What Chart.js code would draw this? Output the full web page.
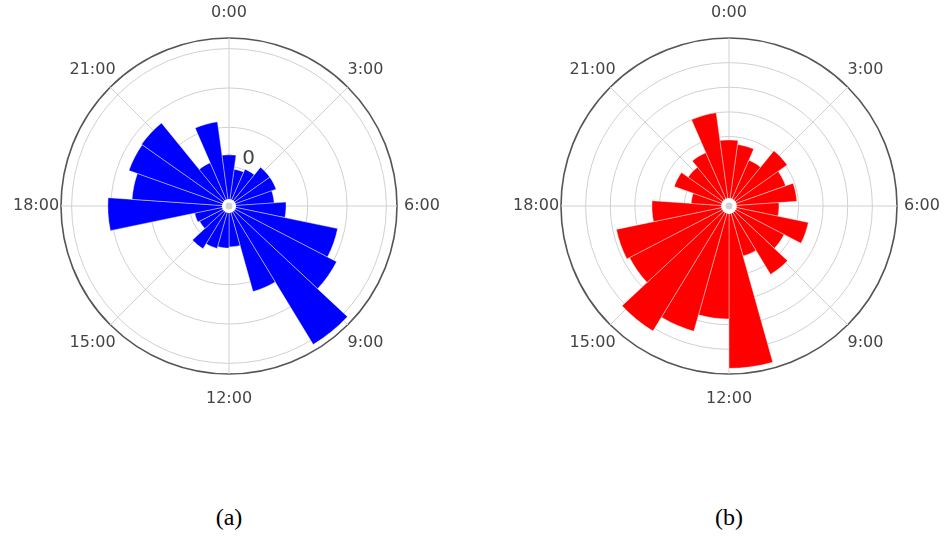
<!DOCTYPE html>
<html>
<head>
<meta charset="utf-8">
<script src="https://cdn.jsdelivr.net/npm/chart.js@4.4.0/dist/chart.umd.min.js"></script>
<style>
  body { margin: 0; width: 947px; height: 559px; overflow: hidden; background: #fff; position: relative; }
  canvas { position: absolute; }
  .cap { position: absolute; top: 504px; width: 100px; text-align: center;
         font: 24px "Liberation Serif", "Times New Roman", serif; color: #000; }
</style>
</head>
<body>
<canvas id="chartA" width="460" height="430" style="left:-1px;top:-9px"></canvas>
<canvas id="chartB" width="460" height="430" style="left:499px;top:-9px"></canvas>
<div class="cap" style="left:179px">(a)</div>
<div class="cap" style="left:679px">(b)</div>
<script>
// one bar per hour, 24 bins spread over 23 steps (last one sits on top of 0:00)
var hours = ["0:00","1:00","2:00","3:00","4:00","5:00","6:00","7:00","8:00","9:00","10:00","11:00",
             "12:00","13:00","14:00","15:00","16:00","17:00","18:00","19:00","20:00","21:00","22:00","23:00"];
var hourTicks = ["0:00","3:00","6:00","9:00","12:00","15:00","18:00","21:00"];

var countsA = [13.0, 9.4, 10.2, 12.7, 12.7, 11.5, 14.5, 28.2, 30.8, 41.2, 22.6, 10.4,
               10.7, 11.2, 12.7, 8.4, 8.9, 30.8, 24.7, 27.0, 27.2, 12.0, 21.6, 13.0];
var countsB = [28.6, 27.0, 22.1, 30.7, 26.2, 29.4, 22.1, 34.7, 27.0, 34.3, 22.9, 67.7,
               47.7, 54.6, 61.2, 47.3, 48.5, 33.1, 17.2, 25.4, 22.1, 25.4, 40.0, 28.6];

var polarDecor = {
  id: 'polarDecor',
  beforeDatasetsDraw: function (chart) {
    var s = chart.scales.r, ctx = chart.ctx;
    ctx.save();
    ctx.strokeStyle = '#d0d0d0';
    ctx.lineWidth = 1;
    hourTicks.forEach(function (t, i) {
      var a = i * Math.PI / 4;
      ctx.beginPath();
      ctx.moveTo(s.xCenter, s.yCenter);
      ctx.lineTo(s.xCenter + s.drawingArea * Math.sin(a), s.yCenter - s.drawingArea * Math.cos(a));
      ctx.stroke();
    });
    ctx.restore();
  },
  afterDatasetsDraw: function (chart, args, o) {
    var s = chart.scales.r, ctx = chart.ctx;
    ctx.save();
    // hole in the middle, grid lines meet in it
    ctx.fillStyle = '#fff';
    ctx.beginPath();
    ctx.arc(s.xCenter, s.yCenter, s.getDistanceFromCenterForValue(o.bottom), 0, 2 * Math.PI);
    ctx.fill();
    ctx.fillStyle = '#cfd4d4';
    ctx.beginPath();
    ctx.arc(s.xCenter, s.yCenter, 3.5, 0, 2 * Math.PI);
    ctx.fill();

    ctx.font = '16px "DejaVu Sans"';
    ctx.fillStyle = '#444';
    ctx.textAlign = 'center';
    ctx.textBaseline = 'middle';
    hourTicks.forEach(function (t, i) {
      var a = i * Math.PI / 4, r = s.drawingArea + 25;
      ctx.fillText(t, s.xCenter + r * Math.sin(a), s.yCenter - r * Math.cos(a));
    });
    if (o.rLabel) {
      var a = o.rLabel.angle * Math.PI / 180, r = s.getDistanceFromCenterForValue(o.rLabel.value);
      ctx.font = '20px "DejaVu Sans"';
      ctx.fillText(o.rLabel.text, s.xCenter + r * Math.sin(a), s.yCenter - r * Math.cos(a));
    }
    ctx.restore();
  }
};

function makeChart(id, values, color, rMin, rMax, bottom, rLabel) {
  return new Chart(document.getElementById(id), {
    type: 'polarArea',
    data: {
      labels: hours,
      datasets: [{
        data: values,
        backgroundColor: color,
        borderColor: 'rgba(255,255,255,0.8)',
        borderWidth: 0.5,
        angle: 360 / 23
      }]
    },
    options: {
      responsive: false,
      animation: false,
      layout: { padding: { left: 62, right: 62, top: 47, bottom: 47 } },
      plugins: {
        legend: { display: false },
        tooltip: { enabled: false },
        polarDecor: { bottom: bottom, rLabel: rLabel }
      },
      scales: {
        r: {
          min: rMin,
          max: rMax,
          startAngle: -180 / 23,
          ticks: { display: false, stepSize: 10 },
          grid: {
            circular: true,
            color: function (c) { return c.tick && c.tick.value >= rMax - 0.01 ? '#555' : '#d0d0d0'; },
            lineWidth: function (c) { return c.tick && c.tick.value >= rMax - 0.01 ? 1.6 : 1; }
          },
          angleLines: { display: false },
          pointLabels: { display: false }
        }
      }
    },
    plugins: [polarDecor]
  });
}

makeChart('chartA', countsA, '#0000ff', 0, 42.7, 1.8, { text: '0', value: 13, angle: 22.5 });
makeChart('chartB', countsB, '#ff0000', 1.8, 70, 5, null);
</script>
</body>
</html>
